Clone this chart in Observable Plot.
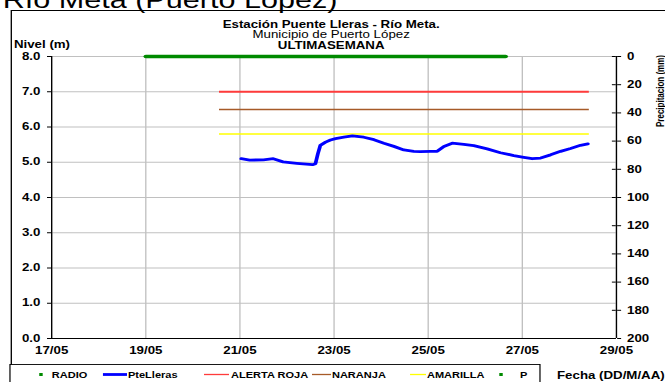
<!DOCTYPE html>
<html>
<head>
<meta charset="utf-8">
<script src="https://cdn.jsdelivr.net/npm/d3@7"></script>
<script src="https://cdn.jsdelivr.net/npm/@observablehq/plot@0.6"></script>
<style>
  html, body { margin: 0; padding: 0; background: #fff; overflow: hidden; width: 665px; height: 382px; }
  #wrap { position: absolute; left: 0; top: 0; width: 500px; height: 382px; transform: scaleX(1.33); transform-origin: 0 0; }
  #frame { position: absolute; left: 7.5px; top: 10px; width: 600px; height: 400px; border: 1.6px solid #000; box-sizing: border-box; }
</style>
</head>
<body>
<div id="wrap"><div id="frame"></div></div>
<script>
// ---- data ----
const pageTitle = "Río Meta (Puerto López)";
const chartTitle = ["Estación Puente Lleras - Río Meta.", "Municipio de Puerto López", "ULTIMASEMANA"];
const yLabel = "Nivel (m)";
const y2Label = "Precipitacion (mm)";
const xLabel = "Fecha (DD/M/AA)";

const xDomain = ["2011-05-17T00:00Z", "2011-05-29T00:00Z"];
const xTickDates = ["2011-05-17T00:00Z", "2011-05-19T00:00Z", "2011-05-21T00:00Z", "2011-05-23T00:00Z", "2011-05-25T00:00Z", "2011-05-27T00:00Z", "2011-05-29T00:00Z"];
const xTickLabels = ["17/05", "19/05", "21/05", "23/05", "25/05", "27/05", "29/05"];
const levelTicks = [0, 1, 2, 3, 4, 5, 6, 7, 8];
const precipTicks = [0, 20, 40, 60, 80, 100, 120, 140, 160, 180, 200];

// PteLleras water level (m)
const levelTimes = [
  "2011-05-21T00:40Z", "2011-05-21T05:00Z", "2011-05-21T12:00Z", "2011-05-21T17:00Z", "2011-05-21T22:00Z",
  "2011-05-22T05:00Z", "2011-05-22T13:00Z", "2011-05-22T14:30Z", "2011-05-22T15:45Z", "2011-05-22T17:00Z",
  "2011-05-22T19:40Z", "2011-05-22T22:10Z", "2011-05-23T00:45Z", "2011-05-23T05:00Z", "2011-05-23T09:20Z",
  "2011-05-23T15:10Z", "2011-05-23T20:20Z", "2011-05-24T01:25Z", "2011-05-24T06:30Z", "2011-05-24T11:35Z",
  "2011-05-24T16:40Z", "2011-05-24T20:00Z", "2011-05-25T01:10Z", "2011-05-25T04:35Z", "2011-05-25T08:00Z",
  "2011-05-25T12:15Z", "2011-05-25T18:10Z", "2011-05-25T23:15Z", "2011-05-26T06:05Z", "2011-05-26T12:50Z",
  "2011-05-26T19:40Z", "2011-05-27T00:45Z", "2011-05-27T05:00Z", "2011-05-27T09:20Z", "2011-05-27T14:25Z",
  "2011-05-27T19:30Z", "2011-05-28T00:35Z", "2011-05-28T05:40Z", "2011-05-28T09:25Z"
];
const levelValues = [
  5.10, 5.06, 5.07, 5.10, 5.01,
  4.97, 4.93, 4.96, 5.24, 5.48,
  5.57, 5.63, 5.67, 5.71, 5.75,
  5.71, 5.64, 5.54, 5.45, 5.35,
  5.31, 5.30, 5.31, 5.31, 5.45,
  5.54, 5.51, 5.47, 5.38, 5.27,
  5.19, 5.14, 5.10, 5.12, 5.21,
  5.31, 5.39, 5.48, 5.52
];

// alert thresholds (m)
const thresholdNames = ["ALERTA ROJA", "NARANJA", "AMARILLA"];
const thresholdValues = [7.0, 6.5, 5.8];
const thresholdColors = ["#ff3b3b", "#a65a28", "#ffff00"];
const thresholdSpan = ["2011-05-20T13:40Z", "2011-05-28T10:15Z"];

// precipitation P (mm)
const precipTimes = ["2011-05-19T00:00Z", "2011-05-26T15:30Z"];
const precipValues = [0, 0];

const legendNames = ["RADIO", "PteLleras", "ALERTA ROJA", "NARANJA", "AMARILLA", "P"];

// ---- build ----
const W = 500, H = 382;
const toLevel = p => 8 - p / 25; // precip axis reversed: 0 at top, 200 at bottom
const levelData = levelTimes.map((t, i) => ({t: new Date(t), v: levelValues[i]}));
const precipData = precipTimes.map((t, i) => ({t: new Date(t), p: precipValues[i]}));
const xStart = new Date(xDomain[0]), xEnd = new Date(xDomain[1]);
const xTicks = xTickDates.map(d => new Date(d));

const chart = Plot.plot({
  width: W, height: H,
  marginLeft: 38.35, marginRight: 37, marginTop: 56, marginBottom: 44,
  style: {fontFamily: "'Liberation Sans', Arial, sans-serif", fontSize: "10px", fontWeight: "bold", color: "#000", background: "transparent", overflow: "visible"},
  x: {type: "utc", domain: [xStart, xEnd]},
  y: {domain: [0, 8]},
  marks: [
    Plot.gridX(xTicks, {stroke: "#c0c0c0", strokeOpacity: 1}),
    Plot.gridY(levelTicks, {stroke: "#c0c0c0", strokeOpacity: 1}),
    Plot.axisX(xTicks, {tickSize: 0, tickPadding: 8, label: null, fill: "#000",
      tickFormat: d => xTickLabels[xTicks.findIndex(t => +t === +d)]}),
    Plot.axisY(levelTicks, {anchor: "left", tickSize: 3, tickPadding: 5.5, label: null, fill: "#000", tickFormat: d => d.toFixed(1)}),
    Plot.axisY(precipTicks.map(toLevel), {anchor: "right", tickSize: 3, tickPadding: 5, label: null, fill: "#000",
      tickFormat: v => String(Math.round((8 - v) * 25))}),
    Plot.ruleY(precipTicks.map(toLevel), {x1: d3.utcHour.offset(xEnd, -2), x2: xEnd, stroke: "#000"}),
    Plot.ruleX([xStart, xEnd], {stroke: "#000", strokeWidth: 1}),
    Plot.ruleY([0], {stroke: "#000", strokeWidth: 1}),
    ...thresholdValues.map((v, i) => Plot.ruleY([v], {
      x1: new Date(thresholdSpan[0]), x2: new Date(thresholdSpan[1]),
      stroke: thresholdColors[i], strokeWidth: i === 0 ? 2 : 1.5
    })),
    Plot.line(precipData, {x: "t", y: d => toLevel(d.p), stroke: "#008a00", strokeWidth: 3.5}),
    Plot.line(levelData, {x: "t", y: "v", stroke: "#0000ff", strokeWidth: 2.8, strokeLinejoin: "round"})
  ]
});
document.getElementById("wrap").appendChild(chart);
chart.style.position = "absolute";
chart.style.left = "0px";
chart.style.top = "0px";

// ---- extra texts & legend ----
const svg = d3.select(chart);
const font = "'Liberation Sans', Arial, sans-serif";
function txt(x, y, s, size, weight, anchor) {
  return svg.append("text").attr("x", x).attr("y", y).text(s)
    .attr("font-family", font).attr("font-size", size).attr("font-weight", weight)
    .attr("text-anchor", anchor || "start").attr("fill", "#000");
}
txt(2, 8, pageTitle, 23, "normal");
txt(249, 28, chartTitle[0], 10, "bold", "middle");
txt(249, 38.5, chartTitle[1], 10, "normal", "middle");
txt(249, 49.5, chartTitle[2], 10, "bold", "middle");
txt(10.5, 48, yLabel, 10, "bold");
svg.append("text").attr("transform", "translate(496.3,91) rotate(-90)")
  .attr("text-anchor", "middle").attr("dominant-baseline", "central")
  .attr("font-family", font).attr("font-size", 8).attr("font-weight", "bold").text(y2Label);
txt(418.8, 379, xLabel, 10, "bold");

// legend box
svg.append("rect").attr("x", 7.5).attr("y", 364.5).attr("width", 398.5).attr("height", 30)
  .attr("fill", "#fff").attr("stroke", "#000").attr("stroke-width", 0.9);
const legendSym = [
  {type: "dot", color: "#008a00", x: 30.8, tx: 39},
  {type: "line", color: "#0000ff", x: 77.4, x2: 95.5, tx: 96.2, w: 2.8},
  {type: "line", color: thresholdColors[0], x: 153.4, x2: 172.2, tx: 173.7, w: 1.3},
  {type: "line", color: thresholdColors[1], x: 234.6, x2: 248.9, tx: 249.6, w: 1.3},
  {type: "line", color: thresholdColors[2], x: 308.3, x2: 320.3, tx: 321, w: 1.3},
  {type: "dot", color: "#008a00", x: 376.7, tx: 391}
];
legendSym.forEach((s, i) => {
  if (s.type === "dot") {
    svg.append("rect").attr("x", s.x - 1.3).attr("y", 373).attr("width", 2.6).attr("height", 3).attr("fill", s.color);
  } else {
    svg.append("line").attr("x1", s.x).attr("x2", s.x2).attr("y1", 374.5).attr("y2", 374.5)
      .attr("stroke", s.color).attr("stroke-width", s.w);
  }
  txt(s.tx, 378, legendNames[i], 8.3, "bold");
});
</script>
</body>
</html>
